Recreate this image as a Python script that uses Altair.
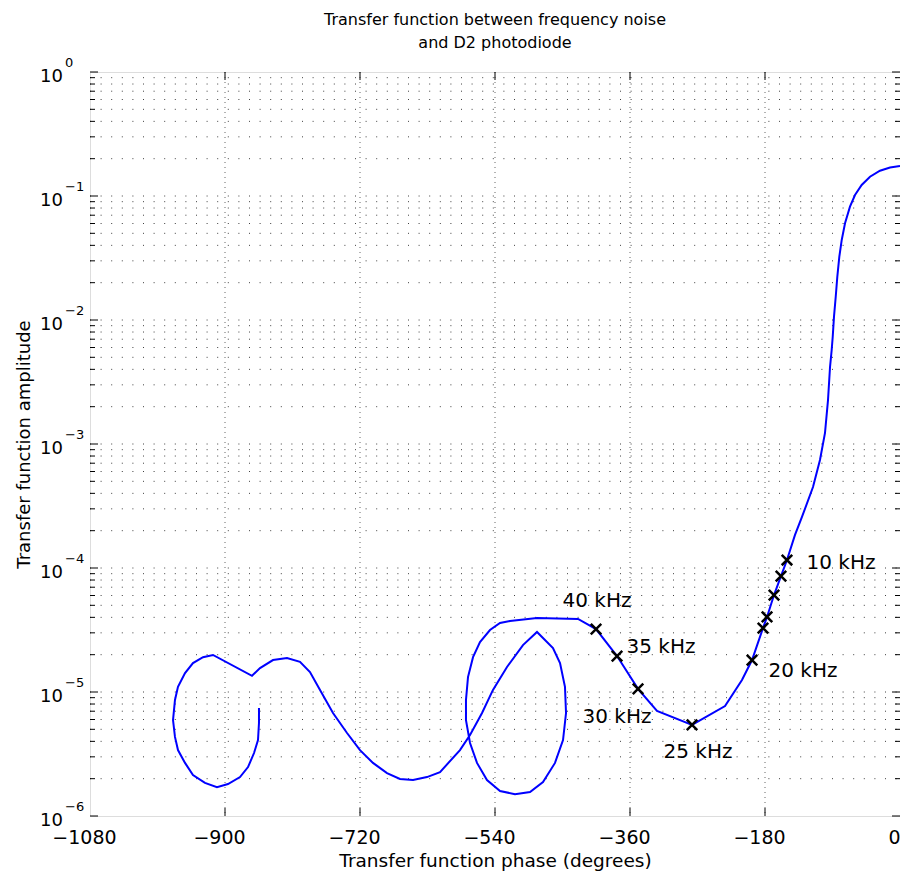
import altair as alt
import pandas as pd

FONT = "DejaVu Sans"

# ---- curve (ordered by frequency, starting at low frequency / phase 0) ----
phase_deg = [0, -13.3, -26.7, -40, -51.1, -60, -66.7, -73.3, -77.7, -80.9, -83.6, -85.7, -88, -89.7, -91.1,
             -93.3, -96, -100, -106.7, -116, -130.7, -140,
             -150.7, -158.7, -168, -177.3, -182.7, -197.3,
             -210.7, -233.3, -277.3, -324, -349.3, -377.3, -405.3,
             -429.3, -484, -520,
             -533.3, -546.7, -560, -569.3, -576, -578.7, -578.7,
             -573.3, -564, -550.7, -533.3, -513.3, -493.3, -476,
             -460, -449.3, -445.3, -446.7, -453.3, -462.7,
             -484, -502.7, -524, -542.7, -557.3, -573.3, -586.7, -613.3,
             -630.7, -649.3, -666.7, -684, -702.7, -720, -737.3, -756, -773.3, -786.7, -800, -817.3, -836, -853.3, -864,
             -916, -929.3, -942.7, -953.3, -962.7, -966.7, -969.3, -966.7, -962.7, -953.3, -942.7, -926.7, -910.7,
             -896, -880, -869.3, -861.3, -856, -854.7, -854.7]
amplitude = [0.1746, 0.170, 0.160, 0.143, 0.1227, 0.1019, 0.0820, 0.0602, 0.0442, 0.0324, 0.0223, 0.0154, 0.01064, 0.00733, 0.00573,
             0.00418, 0.00226, 0.00123, 7.43e-4, 4.50e-4, 2.58e-4, 1.85e-4,
             1.16e-4, 8.6e-5, 6.05e-5, 4.03e-5, 3.28e-5, 1.81e-5,
             1.25e-5, 7.7e-6, 5.42e-6, 7.03e-6, 1.06e-5, 1.95e-5, 3.22e-5,
             3.88e-5, 3.95e-5, 3.74e-5,
             3.60e-5, 3.16e-5, 2.53e-5, 1.91e-5, 1.32e-5, 8.62e-6, 5.94e-6,
             3.88e-6, 2.68e-6, 1.95e-6, 1.59e-6, 1.50e-6, 1.56e-6, 1.88e-6,
             2.68e-6, 4.10e-6, 6.77e-6, 1.10e-5, 1.71e-5, 2.26e-5,
             3.05e-5, 2.39e-5, 1.59e-5, 1.04e-5, 6.77e-6, 4.50e-6, 3.40e-6, 2.26e-6,
             2.06e-6, 1.95e-6, 1.99e-6, 2.22e-6, 2.68e-6, 3.40e-6, 4.67e-6, 6.77e-6, 1.04e-5, 1.45e-5, 1.75e-5, 1.88e-5, 1.81e-5, 1.56e-5, 1.35e-5,
             1.99e-5, 1.91e-5, 1.71e-5, 1.42e-5, 1.10e-5, 8.62e-6, 5.94e-6, 4.34e-6, 3.40e-6, 2.68e-6, 2.14e-6, 1.85e-6, 1.71e-6,
             1.81e-6, 2.06e-6, 2.48e-6, 3.22e-6, 4.10e-6, 5.62e-6, 7.43e-6]

# ---- frequency markers ----
marker_phase = [-150.7, -158.7, -168, -177.3, -182.7, -197.3, -277.3, -349.3, -377.3, -405.3]
marker_amp = [1.16e-4, 8.6e-5, 6.05e-5, 4.03e-5, 3.28e-5, 1.81e-5, 5.42e-6, 1.06e-5, 1.95e-5, 3.22e-5]

# ---- marker labels ----
label_text = ["10 kHz", "20 kHz", "25 kHz", "30 kHz", "35 kHz", "40 kHz"]
label_phase = [-78.7, -129.3, -269.3, -377.3, -318.7, -404]
label_amp = [1.10e-4, 1.48e-5, 3.28e-6, 6.28e-6, 2.31e-5, 5.42e-5]

# ---- axes ----
x_ticks = [-1080, -900, -720, -540, -360, -180, 0]
y_decades = [1e0, 1e-1, 1e-2, 1e-3, 1e-4, 1e-5, 1e-6]
y_exponents = ["0", "\u22121", "\u22122", "\u22123", "\u22124", "\u22125", "\u22126"]
y_minor = [k * 10.0 ** n for n in range(-6, 0) for k in range(2, 10)]
y_grid = [k * 10.0 ** n for n in range(-6, 0) for k in range(1, 10) if not (k == 1 and n == -6)]

W, H = 810, 744

x_axis = alt.Axis(values=x_ticks, format="d", labels=True, ticks=False, tickSize=0, domain=False, grid=False,
                  labelFont=FONT, labelFontSize=19, labelColor="black", labelPadding=12, labelOffset=-6,
                  labelFlush=False, labelOverlap=False,
                  title="Transfer function phase (degrees)", titleFont=FONT, titleFontSize=18.5,
                  titleFontWeight="normal", titleColor="black", titlePadding=4)
y_axis = alt.Axis(labels=False, ticks=False, domain=False, grid=False,
                  title="Transfer function amplitude", titleFont=FONT, titleFontSize=18,
                  titleFontWeight="normal", titleColor="black", titlePadding=57)

xs = alt.Scale(domain=[-1080, 0], nice=False, zero=False)
ys = alt.Scale(type="log", domain=[1e-6, 1], nice=False)


def X(f="phase"):
    return alt.X(f"{f}:Q", scale=xs, axis=x_axis)


def Y(f="amp"):
    return alt.Y(f"{f}:Q", scale=ys, axis=y_axis)


curve = pd.DataFrame({"phase": phase_deg, "amp": amplitude, "i": list(range(len(phase_deg)))})
markers = pd.DataFrame({"phase": marker_phase, "amp": marker_amp})
labels = pd.DataFrame({"phase": label_phase, "amp": label_amp, "text": label_text})
hgrid = pd.DataFrame({"amp": y_grid})
vgrid = pd.DataFrame({"phase": x_ticks[1:-1]})
ymaj = pd.DataFrame({"amp": y_decades, "exp": y_exponents})
ymin = pd.DataFrame({"amp": y_minor})

grid_h = alt.Chart(hgrid).mark_rule(color="black", strokeWidth=1, strokeDash=[1, 9.6], opacity=0.75).encode(
    y=Y(), x=alt.value(0), x2=alt.value(W))
grid_v = alt.Chart(vgrid).mark_rule(color="black", strokeWidth=1, strokeDash=[1, 4], opacity=0.6).encode(
    x=X(), y=alt.value(0), y2=alt.value(H))

xt_bot = alt.Chart(vgrid).mark_rule(color="black", strokeWidth=1).encode(x=X(), y=alt.value(H), y2=alt.value(H - 8))
xt_top = alt.Chart(vgrid).mark_rule(color="black", strokeWidth=1).encode(x=X(), y=alt.value(0), y2=alt.value(8))
yt_l = alt.Chart(ymaj).mark_rule(color="black", strokeWidth=1).encode(y=Y(), x=alt.value(0), x2=alt.value(8))
yt_r = alt.Chart(ymaj).mark_rule(color="black", strokeWidth=1).encode(y=Y(), x=alt.value(W), x2=alt.value(W - 8))
ym_l = alt.Chart(ymin).mark_rule(color="black", strokeWidth=1).encode(y=Y(), x=alt.value(0), x2=alt.value(5))
ym_r = alt.Chart(ymin).mark_rule(color="black", strokeWidth=1).encode(y=Y(), x=alt.value(W), x2=alt.value(W - 5))

ylab10 = alt.Chart(ymaj).mark_text(font=FONT, fontSize=18, align="right", baseline="alphabetic", dy=10,
                                   color="black").encode(y=Y(), x=alt.value(-27), text=alt.value("10"))
ylabexp = alt.Chart(ymaj).mark_text(font=FONT, fontSize=13, align="left", baseline="alphabetic", dy=-5,
                                    color="black").encode(y=Y(), x=alt.value(-25), text="exp:N")

line = alt.Chart(curve).mark_line(color="#0000ff", strokeWidth=2).encode(
    x=X(), y=Y(), order=alt.Order("i:Q"))

pts = alt.Chart(markers).mark_point(shape="M-1,-1L1,1M-1,1L1,-1", size=110, filled=False, color="black",
                                    strokeWidth=2.5, opacity=1).encode(x=X(), y=Y())

txt = alt.Chart(labels).mark_text(font=FONT, fontSize=20, align="center", baseline="middle", color="black").encode(
    x=X(), y=Y(), text="text:N")

chart = alt.layer(grid_h, grid_v, xt_bot, xt_top, yt_l, yt_r, ym_l, ym_r, ylab10, ylabexp, line, pts, txt).properties(
    width=W, height=H,
    title=alt.TitleParams(text=["Transfer function between frequency noise", "and D2 photodiode"],
                          font=FONT, fontSize=16, fontWeight="normal", color="black", anchor="middle",
                          lineHeight=23, offset=6),
    autosize=alt.AutoSizeParams(type="none"),
    padding={"left": 82, "top": 64, "right": 0, "bottom": 56},
).configure_view(stroke="black", strokeWidth=1.5).configure(background="white")

chart.save("out.html", embed_options={"renderer": "svg", "actions": False})
